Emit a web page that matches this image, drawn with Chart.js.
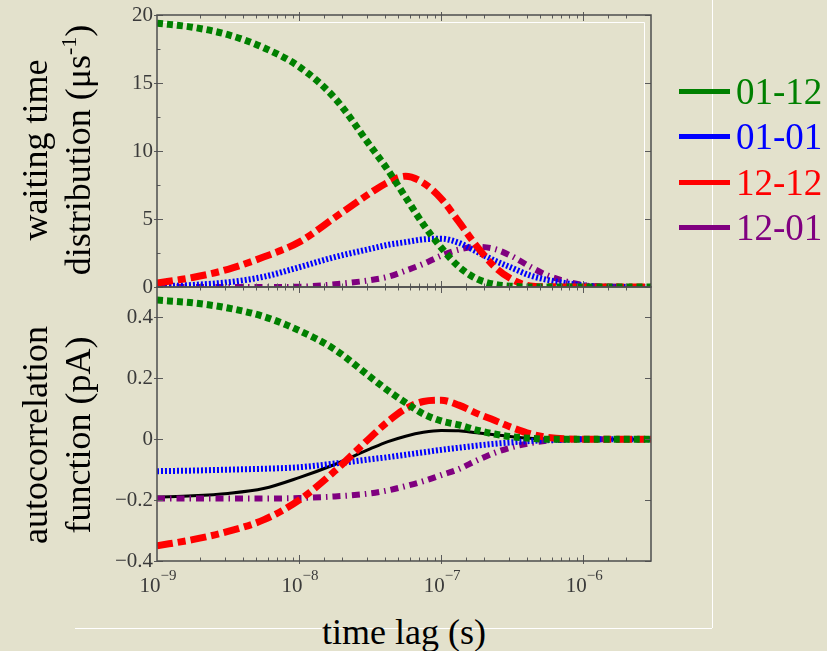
<!DOCTYPE html>
<html>
<head>
<meta charset="utf-8">
<script src="https://cdn.jsdelivr.net/npm/chart.js@4/dist/chart.umd.min.js"></script>
<style>
  html, body { margin: 0; padding: 0; }
  body {
    width: 827px; height: 651px; overflow: hidden; position: relative;
    background: #e3e1cc; font-family: "Liberation Serif", "Times New Roman", serif;
  }
  canvas { position: absolute; left: 0; }
  #wtdChart { top: 0; }
  #acfChart { top: 260px; }
  .txt { position: absolute; white-space: nowrap; font-size: 36px; line-height: 1; color: #000; }
  .rot { transform: translate(-50%, -50%) rotate(-90deg); }
  .txt sup { font-size: 22px; vertical-align: 14px; line-height: 0; }
  .frame-h { position: absolute; left: 75px; top: 628px; width: 637px; height: 1px; background: #fff; }
  .frame-v { position: absolute; left: 712px; top: 0; width: 1px; height: 628px; background: #fff; }
  .leg-row { position: absolute; left: 679px; height: 40px; display: flex; align-items: center; }
  .leg-line { width: 51px; height: 5px; margin-right: 6px; }
  .leg-text { font-size: 37px; line-height: 1; }
</style>
</head>
<body>
<div class="frame-h"></div>
<div class="frame-v"></div>
<canvas id="wtdChart" width="680" height="300"></canvas>
<canvas id="acfChart" width="680" height="340"></canvas>

<div class="txt rot" style="left:35px; top:150px;">waiting time</div>
<div class="txt rot" style="left:78px; top:150px;">distribution (μs<sup>-1</sup>)</div>
<div class="txt rot" style="left:35px; top:435px;">autocorrelation</div>
<div class="txt rot" style="left:78px; top:435px;">function (pA)</div>
<div class="txt" style="left:404px; top:632px; transform:translate(-50%,-50%);">time lag (s)</div>
<div id="legend"></div>

<script>
// time lag grid (s)
const lagTimes = [1e-9, 1.78e-9, 3.16e-9, 5.62e-9, 1e-8, 1.78e-8, 3.16e-8, 4.22e-8, 5.62e-8, 7.5e-8,
                  1e-7, 1.33e-7, 1.78e-7, 2.37e-7, 3.16e-7, 4.22e-7, 5.62e-7, 1e-6, 1.78e-6, 3e-6];

// transition labels
const seriesNames = ['01-12', '01-01', '12-12', '12-01'];

// waiting time distributions (1/us)
const wtd0112 = [19.4, 19.1, 18.55, 17.6, 16.2, 13.9, 10.4, 8.6, 6.6, 4.6, 2.9, 1.5, 0.6, 0.2, 0.05, 0, 0, 0, 0, 0];
const wtd0101 = [0.05, 0.15, 0.35, 0.75, 1.45, 2.2, 2.8, 3.1, 3.3, 3.5, 3.55, 3.25, 2.6, 1.95, 1.4, 0.85, 0.52, 0.12, 0, 0];
const wtd1212 = [0.3, 0.7, 1.3, 2.2, 3.3, 5.1, 6.9, 7.7, 8.15, 7.65, 6.5, 4.8, 3.0, 1.5, 0.55, 0.08, 0.02, 0, 0, 0];
const wtd1201 = [0, 0, 0, 0, 0.02, 0.2, 0.5, 0.75, 1.2, 1.7, 2.3, 2.75, 2.95, 2.8, 2.25, 1.5, 0.85, 0.15, 0.02, 0];

// current autocorrelation contributions (pA)
const acf0112 = [0.457, 0.448, 0.431, 0.403, 0.357, 0.295, 0.205, 0.16, 0.12, 0.083, 0.06, 0.047, 0.03, 0.017, 0.008, 0.003, 0, 0, 0, 0];
const acf0101 = [-0.105, -0.103, -0.1, -0.097, -0.092, -0.08, -0.066, -0.059, -0.051, -0.043, -0.035, -0.028, -0.021, -0.015, -0.01, -0.006, -0.003, 0, 0, 0];
const acf1212 = [-0.35, -0.33, -0.303, -0.265, -0.2, -0.105, 0.005, 0.058, 0.1, 0.124, 0.128, 0.112, 0.085, 0.062, 0.038, 0.018, 0.006, 0, 0, 0];
const acf1201 = [-0.195, -0.195, -0.195, -0.195, -0.193, -0.188, -0.178, -0.168, -0.154, -0.138, -0.118, -0.098, -0.07, -0.045, -0.026, -0.013, -0.005, 0, 0, 0];
const acfTotal = [-0.19, -0.186, -0.178, -0.162, -0.126, -0.083, -0.032, -0.008, 0.01, 0.023, 0.029, 0.028, 0.021, 0.015, 0.008, 0.003, 0.001, 0, 0, 0];

// y-axis tick values
const wtdTicks = [0, 5, 10, 15, 20];
const acfTicks = [-0.4, -0.2, 0, 0.2, 0.4];

// per-series line styles
const styles = {
  '01-12': { color: '#008000', width: 7, dash: [6, 4], order: 0 },
  '01-01': { color: '#0000ff', width: 6, dash: [2, 2], order: 2 },
  '12-12': { color: '#ff0000', width: 7, dash: [16, 5, 8, 5], order: 1 },
  '12-01': { color: '#800080', width: 6, dash: [8, 5, 1.5, 5], order: 3 },
  total:   { color: '#000000', width: 3, dash: [], order: 4 }
};

const FONT = '"Liberation Serif", "Times New Roman", serif';
const TICK_COLOR = '#3a3a3a';

function toPoints(values) {
  return values.map((v, i) => ({ x: lagTimes[i], y: v }));
}

function makeDataset(label, values, style) {
  return {
    label,
    data: toPoints(values),
    borderColor: style.color,
    backgroundColor: style.color,
    borderWidth: style.width,
    borderDash: style.dash,
    borderCapStyle: 'butt',
    borderJoinStyle: 'round',
    cubicInterpolationMode: 'monotone',
    pointRadius: 0,
    fill: false,
    order: style.order
  };
}

function isDecade(v) {
  const e = Math.round(Math.log10(v));
  return Math.abs(v / Math.pow(10, e) - 1) < 1e-6;
}

// Box frame with inward tick marks on all four sides
const frameTicks = {
  id: 'frameTicks',
  beforeDatasetsDraw(chart, args, opts) {
    if (!opts.inset) return;
    const { ctx, chartArea: a } = chart;
    ctx.save();
    ctx.strokeStyle = '#ffffff';
    ctx.lineWidth = 1;
    ctx.beginPath();
    ctx.moveTo(a.left, a.top + 7.5);
    ctx.lineTo(a.right - 6.5, a.top + 7.5);
    ctx.lineTo(a.right - 6.5, a.bottom);
    ctx.stroke();
    ctx.restore();
  },
  afterDraw(chart, args, opts) {
    const { ctx, chartArea: a, scales } = chart;
    const x = scales.x, y = scales.y;
    ctx.save();
    ctx.strokeStyle = '#5a5a5a';
    ctx.lineWidth = 1;
    const seg = (x1, y1, x2, y2) => { ctx.beginPath(); ctx.moveTo(x1, y1); ctx.lineTo(x2, y2); ctx.stroke(); };

    x.ticks.forEach(t => {
      const px = Math.round(x.getPixelForValue(t.value)) + 0.5;
      if (px < a.left + 1 || px > a.right - 1) return;
      const major = isDecade(t.value);
      const len = major ? 6 : 3.5;
      seg(px, a.bottom + (major ? 3 : 0), px, a.bottom - len);
      seg(px, a.top - (major ? 3 : 0), px, a.top + len);
    });

    const yt = y.ticks.map(t => t.value);
    yt.forEach((v, i) => {
      const py = Math.round(y.getPixelForValue(v)) + 0.5;
      seg(a.left, py, a.left + 6, py);
      seg(a.left - 3, py, a.left, py);
      seg(a.right, py, a.right - 6, py);
      if (opts.yMinor && i < yt.length - 1) {
        const pm = Math.round(y.getPixelForValue((v + yt[i + 1]) / 2)) + 0.5;
        seg(a.left, pm, a.left + 3.5, pm);
      }
    });

    ctx.strokeStyle = '#4d4d4d';
    ctx.lineWidth = 1.5;
    ctx.strokeRect(a.left, a.top, a.right - a.left, a.bottom - a.top);

    if (opts.xLabels) {
      x.ticks.forEach(t => {
        if (!isDecade(t.value)) return;
        const px = x.getPixelForValue(t.value);
        const e = Math.round(Math.log10(t.value));
        const base = '10';
        const sup = (e < 0 ? '\u2212' : '') + Math.abs(e);
        ctx.font = '21px ' + FONT;
        const w1 = ctx.measureText(base).width;
        ctx.font = '15px ' + FONT;
        const w2 = ctx.measureText(sup).width;
        const x0 = px - (w1 + w2) / 2 + 1;
        ctx.fillStyle = TICK_COLOR;
        ctx.textAlign = 'left';
        ctx.textBaseline = 'alphabetic';
        ctx.font = '21px ' + FONT;
        ctx.fillText(base, x0, a.bottom + 31);
        ctx.font = '15px ' + FONT;
        ctx.fillText(sup, x0 + w1, a.bottom + 19);
      });
    }
    ctx.restore();
  }
};

function baseOptions(yMin, yMax, yTicks, padTop, xHeight, frameOpts) {
  return {
    responsive: false,
    animation: false,
    events: [],
    layout: { padding: { top: padTop, right: 29, left: 0, bottom: 0 } },
    plugins: { legend: { display: false }, tooltip: { enabled: false }, frameTicks: frameOpts },
    scales: {
      x: {
        type: 'logarithmic',
        min: 1e-9,
        max: 3e-6,
        ticks: { display: false },
        grid: { display: false },
        border: { display: false },
        afterFit: s => { s.height = xHeight; s.paddingLeft = 0; s.paddingRight = 0; }
      },
      y: {
        type: 'linear',
        min: yMin,
        max: yMax,
        afterBuildTicks: s => { s.ticks = yTicks.map(v => ({ value: v })); },
        afterFit: s => { s.width = 157; s.paddingTop = 0; s.paddingBottom = 0; },
        ticks: {
          color: TICK_COLOR,
          padding: 4,
          font: { family: FONT, size: 21 },
          callback: v => String(Math.round(v * 10) / 10).replace('-', '\u2212')
        },
        grid: { display: false, drawTicks: false },
        border: { display: false }
      }
    }
  };
}

new Chart(document.getElementById('wtdChart'), {
  type: 'line',
  data: {
    datasets: [
      makeDataset(seriesNames[0], wtd0112, styles['01-12']),
      makeDataset(seriesNames[1], wtd0101, styles['01-01']),
      makeDataset(seriesNames[2], wtd1212, styles['12-12']),
      makeDataset(seriesNames[3], wtd1201, styles['12-01'])
    ]
  },
  options: baseOptions(0, 20, wtdTicks, 15, 13, { yMinor: true, inset: true, xLabels: false }),
  plugins: [frameTicks]
});

new Chart(document.getElementById('acfChart'), {
  type: 'line',
  data: {
    datasets: [
      makeDataset('total', acfTotal, styles.total),
      makeDataset(seriesNames[0], acf0112, styles['01-12']),
      makeDataset(seriesNames[1], acf0101, styles['01-01']),
      makeDataset(seriesNames[2], acf1212, styles['12-12']),
      makeDataset(seriesNames[3], acf1201, styles['12-01'])
    ]
  },
  options: baseOptions(-0.4, 0.5, acfTicks, 27, 39, { yMinor: false, inset: false, xLabels: true }),
  plugins: [frameTicks]
});

// legend built from the series names
const legend = document.getElementById('legend');
const legendRows = [91, 136, 182, 227];
seriesNames.forEach((name, i) => {
  const row = document.createElement('div');
  row.className = 'leg-row';
  row.style.top = (legendRows[i] - 20) + 'px';
  const line = document.createElement('div');
  line.className = 'leg-line';
  line.style.background = styles[name].color;
  const text = document.createElement('span');
  text.className = 'leg-text';
  text.style.color = styles[name].color;
  text.textContent = name;
  row.appendChild(line);
  row.appendChild(text);
  legend.appendChild(row);
});
</script>
</body>
</html>
